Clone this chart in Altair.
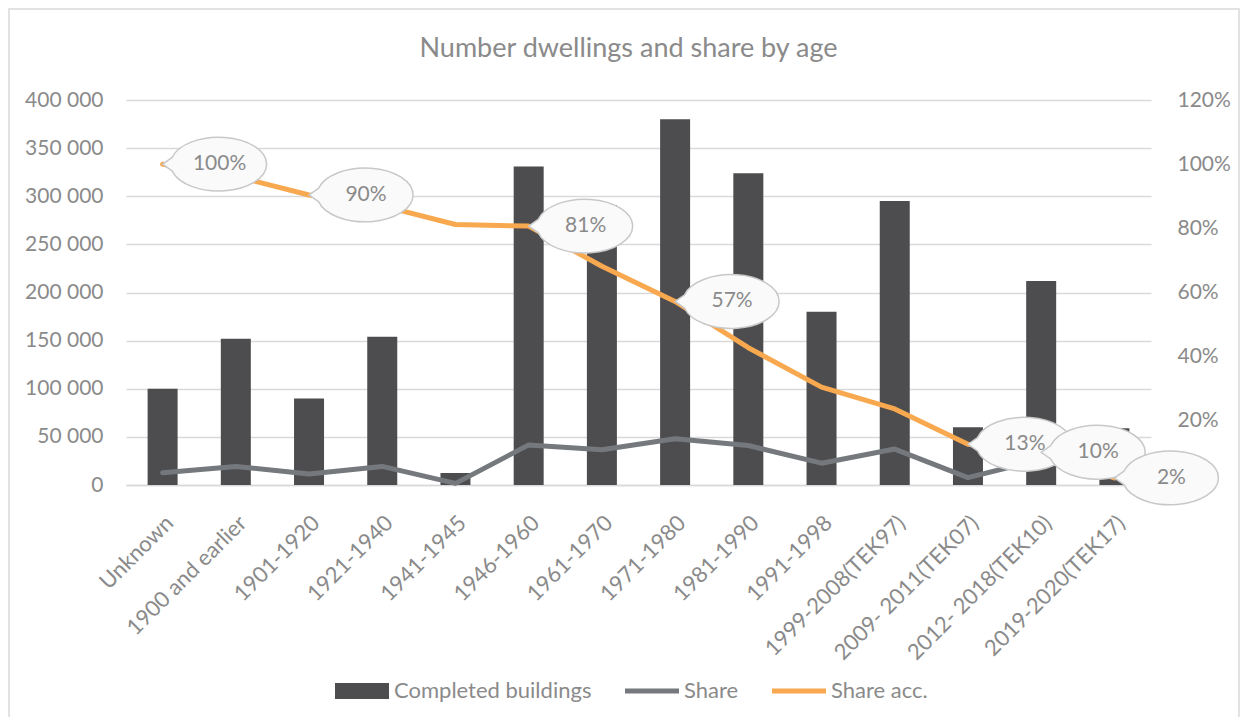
import altair as alt
import pandas as pd

categories = ["Unknown", "1900 and earlier", "1901-1920", "1921-1940", "1941-1945",
              "1946-1960", "1961-1970", "1971-1980", "1981-1990", "1991-1998",
              "1999-2008(TEK97)", "2009- 2011(TEK07)", "2012- 2018(TEK10)", "2019-2020(TEK17)"]
completed = [100000, 152000, 90000, 154000, 12500, 331000, 291000, 380000,
             324000, 180000, 295000, 60000, 212000, 59000]
share = [0.038, 0.058, 0.034, 0.058, 0.005, 0.125, 0.110, 0.144,
         0.123, 0.068, 0.112, 0.023, 0.080, 0.022]
share_acc = [1.00, 0.962, 0.904, 0.870, 0.812, 0.807, 0.682, 0.572,
             0.428, 0.305, 0.237, 0.127, 0.102, 0.022]
callout = [True, False, True, False, False, True, False, True,
           False, False, False, True, True, True]
series = ["Completed buildings", "Share", "Share acc."]
series_colors = ["#4d4d4f", "#75797d", "#f8a84f"]
left_ticks = [0, 50000, 100000, 150000, 200000, 250000, 300000, 350000, 400000]
right_ticks = [0, 0.2, 0.4, 0.6, 0.8, 1.0, 1.2]

df = pd.DataFrame({"cat": categories, "completed": completed, "share": share,
                   "acc": share_acc, "callout": callout})
legend_df = pd.DataFrame({"series": series})
frame_df = pd.DataFrame({"k": [0]})

GRAY_TXT = "#8a8a8a"
FONT = "Lato"

ellipse_path = "M 0 0 L 0.199 -0.14 A 1 0.56 0 1 1 0.199 0.14 Z"
legend_shapes = [
    "M -1 -0.3 L 1 -0.3 L 1 0.3 L -1 0.3 Z",
    "M -1 -0.095 L 1 -0.095 L 1 0.095 L -1 0.095 Z",
    "M -1 -0.095 L 1 -0.095 L 1 0.095 L -1 0.095 Z",
]

x_enc = alt.X("cat:N", sort=categories,
              scale=alt.Scale(paddingInner=0, paddingOuter=0),
              axis=alt.Axis(title=None, labelAngle=-45, ticks=False, grid=False,
                            domainColor="#d9d9d9", domainWidth=1.5,
                            labelFontSize=22, labelColor=GRAY_TXT, labelPadding=27,
                            labelFont=FONT, labelLimit=300))

y_left = alt.Y("completed:Q",
               scale=alt.Scale(domain=[0, 400000], nice=False),
               axis=alt.Axis(title=None, values=left_ticks, domain=False, ticks=False,
                             gridColor="#d9d9d9", gridWidth=1.5,
                             labelExpr="replace(format(datum.value, ','), regexp(',', 'g'), ' ')",
                             labelFontSize=21, labelColor=GRAY_TXT, labelPadding=23,
                             labelFont=FONT))

right_axis = alt.Axis(title=None, orient="right", values=right_ticks, format=".0%",
                      grid=False, domain=False, ticks=False, labelFontSize=21,
                      labelColor=GRAY_TXT, labelPadding=26, labelFont=FONT)
right_scale = alt.Scale(domain=[0, 1.2], nice=False)

frame = alt.Chart(frame_df).mark_rect(
    filled=False, stroke="#d9d9d9", strokeWidth=1.5
).encode(x=alt.value(-117), x2=alt.value(1113), y=alt.value(-91), y2=alt.value(640))

bars = alt.Chart(df).mark_bar(size=30, color="#4d4d4f").encode(x=x_enc, y=y_left)

share_line = alt.Chart(df).mark_line(
    color="#75797d", strokeWidth=5, strokeCap="round", strokeJoin="round"
).encode(x=x_enc, y=alt.Y("share:Q", scale=right_scale, axis=right_axis))

acc_line = alt.Chart(df).mark_line(
    color="#f8a84f", strokeWidth=5, strokeCap="round", strokeJoin="round"
).encode(x=x_enc, y=alt.Y("acc:Q", scale=right_scale, axis=right_axis))

bubbles = alt.Chart(df).transform_filter("datum.callout").mark_point(
    shape=ellipse_path, size=9216, filled=True, fill="#fafafa", opacity=1,
    stroke="#c8c8c8", strokeWidth=1.5
).encode(x=x_enc, y=alt.Y("acc:Q", scale=right_scale, axis=right_axis))

bubble_text = alt.Chart(df).transform_filter("datum.callout").mark_text(
    dx=57, fontSize=21, color=GRAY_TXT, font=FONT, align="center", baseline="middle"
).encode(x=x_enc, y=alt.Y("acc:Q", scale=right_scale, axis=right_axis),
         text=alt.Text("acc:Q", format=".0%"))

leg = alt.Legend(title=None, orient="none", legendX=209, legendY=564,
                 direction="horizontal", columns=3, symbolSize=2916,
                 symbolStrokeWidth=0, symbolOpacity=1, labelFontSize=22,
                 labelColor=GRAY_TXT, labelFont=FONT, columnPadding=33, labelOffset=5,
                 labelLimit=400)

legend_layer = alt.Chart(legend_df).mark_point(filled=True, opacity=0).encode(
    x=alt.value(0), y=alt.value(0),
    color=alt.Color("series:N", scale=alt.Scale(domain=series, range=series_colors), legend=leg),
    shape=alt.Shape("series:N", scale=alt.Scale(domain=series, range=legend_shapes), legend=leg),
)

right_group = alt.layer(share_line, acc_line, bubbles, bubble_text)

chart = alt.layer(frame, bars, right_group, legend_layer).resolve_scale(
    y="independent"
).properties(
    width=1025, height=385,
    padding={"left": 118, "top": 92, "right": 89, "bottom": 232},
    autosize=alt.AutoSizeParams(type="none"),
    title=alt.TitleParams("Number dwellings and share by age", fontSize=27,
                          font=FONT, color=GRAY_TXT, fontWeight="normal",
                          anchor="middle", dx=-10, offset=-55),
    background="white",
).configure_view(stroke=None)

chart.save("out.html", embed_options={"renderer": "svg", "actions": False})
